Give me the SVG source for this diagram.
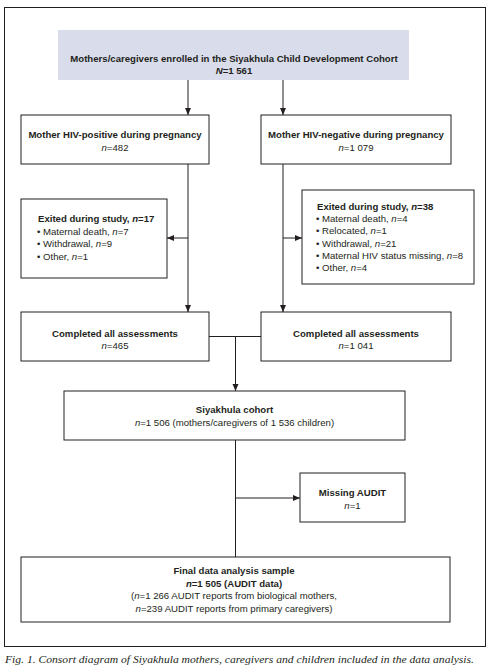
<svg xmlns="http://www.w3.org/2000/svg" width="492" height="667" viewBox="0 0 492 667">
<style>
text{font-family:"Liberation Sans",Arial,sans-serif;font-size:9.6px;fill:#231f20}
.b{font-weight:bold}
.c{text-anchor:middle}
.i{font-style:italic}
.box{fill:#fff;stroke:#231f20;stroke-width:1}
.ln{stroke:#231f20;stroke-width:1;fill:none}
.cap{font-family:"Liberation Serif","Times New Roman",serif;font-style:italic;font-size:11px}
</style>
<defs>
<marker id="ah" markerUnits="userSpaceOnUse" markerWidth="8" markerHeight="7" refX="7" refY="3" orient="auto">
<path d="M0,0 L7,3 L0,6 z" fill="#231f20"/>
</marker>
</defs>
<rect x="0" y="0" width="492" height="667" fill="#fff"/>
<rect x="4.5" y="7.5" width="481" height="639" fill="none" stroke="#231f20" stroke-width="1"/>

<g id="connectors">
<line class="ln" x1="188" y1="80" x2="188" y2="115" marker-end="url(#ah)"/>
<line class="ln" x1="283" y1="80" x2="283" y2="115" marker-end="url(#ah)"/>
<line class="ln" x1="188" y1="164" x2="188" y2="312" marker-end="url(#ah)"/>
<line class="ln" x1="188" y1="238" x2="167" y2="238" marker-end="url(#ah)"/>
<line class="ln" x1="283" y1="164" x2="283" y2="312" marker-end="url(#ah)"/>
<line class="ln" x1="283" y1="238" x2="302" y2="238" marker-end="url(#ah)"/>
<line class="ln" x1="209" y1="336.5" x2="261" y2="336.5"/>
<line class="ln" x1="235.5" y1="336.5" x2="235.5" y2="391" marker-end="url(#ah)"/>
<line class="ln" x1="235.5" y1="440" x2="235.5" y2="557"/>
<line class="ln" x1="235.5" y1="498" x2="300" y2="498" marker-end="url(#ah)"/>
</g>

<g id="enrolled">
<rect x="58" y="30" width="351" height="50" fill="#d9dcea"/>
<text class="b c" x="234" y="62">Mothers/caregivers enrolled in the Siyakhula Child Development Cohort</text>
<text class="b c" x="234" y="74"><tspan class="i">N</tspan>=1 561</text>
</g>

<g id="hivpos">
<rect class="box" x="21" y="115" width="188" height="49"/>
<text class="b c" x="115" y="138">Mother HIV-positive during pregnancy</text>
<text class="c" x="115" y="151"><tspan class="i">n</tspan>=482</text>
</g>

<g id="hivneg">
<rect class="box" x="261" y="115" width="190" height="49"/>
<text class="b c" x="356" y="138">Mother HIV-negative during pregnancy</text>
<text class="c" x="356" y="151"><tspan class="i">n</tspan>=1 079</text>
</g>

<g id="exited-left">
<rect class="box" x="21" y="199" width="146" height="79"/>
<text class="b" x="38" y="222">Exited during study, <tspan class="i">n</tspan>=17</text>
<text x="37" y="234.5">• Maternal death, <tspan class="i">n</tspan>=7</text>
<text x="37" y="247">• Withdrawal, <tspan class="i">n</tspan>=9</text>
<text x="37" y="259.5">• Other, <tspan class="i">n</tspan>=1</text>
</g>

<g id="exited-right">
<rect class="box" x="302" y="190" width="172" height="94"/>
<text class="b" x="317" y="210">Exited during study, <tspan class="i">n</tspan>=38</text>
<text x="316" y="222">• Maternal death, <tspan class="i">n</tspan>=4</text>
<text x="316" y="234.3">• Relocated, <tspan class="i">n</tspan>=1</text>
<text x="316" y="246.6">• Withdrawal, <tspan class="i">n</tspan>=21</text>
<text x="316" y="258.9">• Maternal HIV status missing, <tspan class="i">n</tspan>=8</text>
<text x="316" y="271.2">• Other, <tspan class="i">n</tspan>=4</text>
</g>

<g id="completed-left">
<rect class="box" x="21" y="312" width="188" height="49"/>
<text class="b c" x="115" y="337">Completed all assessments</text>
<text class="c" x="115" y="349"><tspan class="i">n</tspan>=465</text>
</g>

<g id="completed-right">
<rect class="box" x="261" y="312" width="190" height="49"/>
<text class="b c" x="356" y="337">Completed all assessments</text>
<text class="c" x="356" y="349"><tspan class="i">n</tspan>=1 041</text>
</g>

<g id="cohort">
<rect class="box" x="64" y="391" width="341" height="49"/>
<text class="b c" x="234.5" y="413">Siyakhula cohort</text>
<text class="c" x="234.5" y="425.5"><tspan class="i">n</tspan>=1 506 (mothers/caregivers of 1 536 children)</text>
</g>

<g id="missing">
<rect class="box" x="300" y="473" width="105" height="49"/>
<text class="b c" x="352.5" y="496">Missing AUDIT</text>
<text class="c" x="352.5" y="508.5"><tspan class="i">n</tspan>=1</text>
</g>

<g id="final">
<rect class="box" x="21" y="557" width="429" height="65"/>
<text class="b c" x="234" y="574">Final data analysis sample</text>
<text class="b c" x="234" y="586.5"><tspan class="i">n</tspan>=1 505 (AUDIT data)</text>
<text class="c" x="234" y="599">(<tspan class="i">n</tspan>=1 266 AUDIT reports from biological mothers,</text>
<text class="c" x="234" y="611.5"><tspan class="i">n</tspan>=239 AUDIT reports from primary caregivers)</text>
</g>

<text class="cap" x="5" y="663" textLength="469" lengthAdjust="spacingAndGlyphs">Fig. 1. Consort diagram of Siyakhula mothers, caregivers and children included in the data analysis.</text>
</svg>
